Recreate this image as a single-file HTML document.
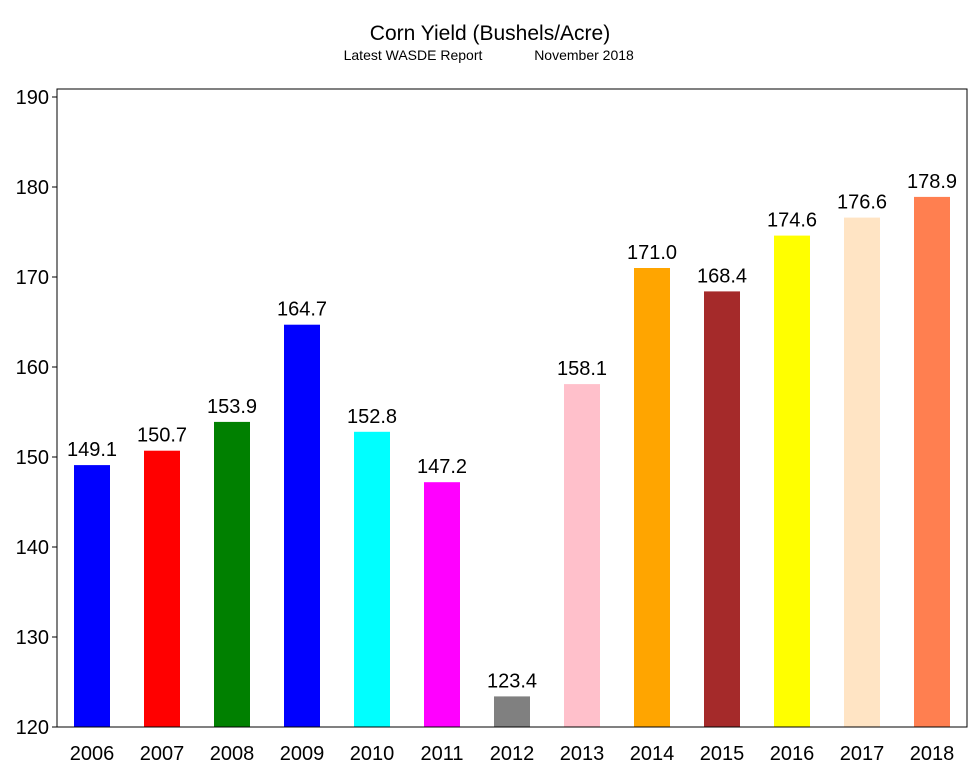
<!DOCTYPE html>
<html><head><meta charset="utf-8"><style>
body{margin:0;background:#fff;font-family:"Liberation Sans",Arial,sans-serif}
</style></head><body>
<svg id="chart" width="979" height="771" xmlns="http://www.w3.org/2000/svg" font-family="Liberation Sans, Arial, sans-serif">
<text x="490" y="40" font-size="21" text-anchor="middle">Corn Yield (Bushels/Acre)</text>
<text x="413" y="60" font-size="14" text-anchor="middle">Latest WASDE Report</text>
<text x="584" y="60" font-size="14" text-anchor="middle">November 2018</text>
<g id="bars"></g><g id="yaxis"></g><g id="xaxis"></g>
<rect x="57" y="89" width="910" height="638" fill="none" stroke="#000" stroke-width="1"/>
</svg>
<script>
const categories=["2006","2007","2008","2009","2010","2011","2012","2013","2014","2015","2016","2017","2018"];
const values=[149.1,150.7,153.9,164.7,152.8,147.2,123.4,158.1,171.0,168.4,174.6,176.6,178.9];
const colors=["#0000ff","#ff0000","#008000","#0000ff","#00ffff","#ff00ff","#808080","#ffc0cb","#ffa500","#a52a2a","#ffff00","#ffe4c4","#ff7f50"];
const yTicks=[120,130,140,150,160,170,180,190];
const NS="http://www.w3.org/2000/svg";
const y=v=>727-(v-120)*9;
const x=i=>92+i*70;
const bars=document.getElementById('bars'),ya=document.getElementById('yaxis'),xa=document.getElementById('xaxis');
function mk(tag,attrs,p){const e=document.createElementNS(NS,tag);for(const k in attrs)e.setAttribute(k,attrs[k]);p.appendChild(e);return e;}
values.forEach((v,i)=>{
 const r=mk('rect',{x:x(i)-18,y:y(v),width:36,height:727-y(v),fill:colors[i]},bars);
 
 
 const t=mk('text',{x:x(i),y:y(v)-9,'font-size':20,'text-anchor':'middle'},bars);
 t.textContent=v.toFixed(1);
 
 
 const l=mk('text',{x:x(i),y:760,'font-size':20,'text-anchor':'middle'},xa);
 l.textContent=categories[i];
 
 
});
yTicks.forEach(v=>{
 const tk=mk('line',{x1:52,x2:57,y1:y(v),y2:y(v),stroke:'#000'},ya);
 
 
 const t=mk('text',{x:49,y:y(v)+7,'font-size':20,'text-anchor':'end'},ya);
 t.textContent=v;
 
 
});
</script>
</body></html>
